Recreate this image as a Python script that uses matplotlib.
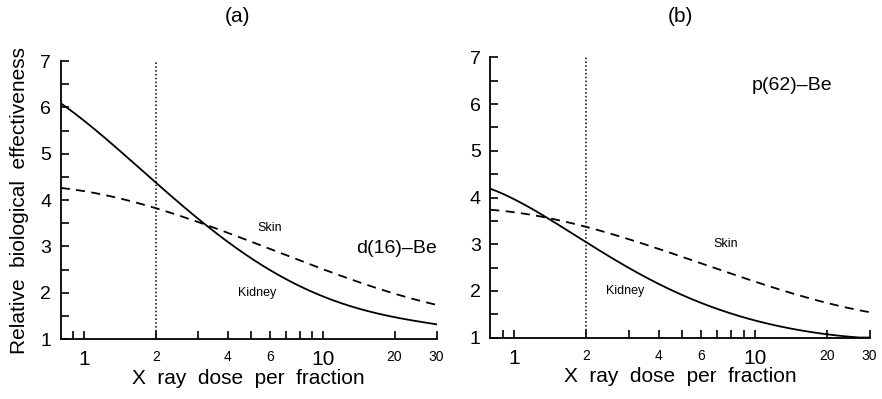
import numpy as np
import matplotlib
matplotlib.use("Agg")
import matplotlib.pyplot as plt
import matplotlib.ticker as mticker

plt.rcParams['font.family'] = ['Liberation Sans', 'DejaVu Sans']

# panel (a) d(16)-Be
dose_a = [0.8, 1, 1.5, 2, 3, 4, 5, 6, 8, 10, 14, 20, 30]
kidney_a = [6.10, 5.70, 4.92, 4.40, 3.64, 3.10, 2.72, 2.46, 2.15, 1.96, 1.66, 1.47, 1.32]
skin_dose_a = [0.8, 1, 1.5, 2, 3.32, 4.5, 8, 10, 14, 20, 30]
skin_a = [4.26, 4.18, 4.02, 3.85, 3.44, 3.16, 2.70, 2.52, 2.25, 1.99, 1.73]

# panel (b) p(62)-Be
dose_b = [0.8, 1.37, 2, 2.72, 3.71, 5.07, 6.92, 8.8, 12, 18.8, 22.3, 26, 30]
kidney_b = [4.19, 3.56, 3.04, 2.64, 2.24, 1.88, 1.60, 1.45, 1.30, 1.09, 1.02, 1.0, 1.0]
skin_dose_b = [0.8, 1.37, 2, 2.72, 5, 8.8, 10, 16.3, 20, 30]
skin_b = [3.74, 3.56, 3.36, 3.20, 2.73, 2.28, 2.19, 1.86, 1.77, 1.53]

tick_pos = [0.9, 1, 2, 3, 4, 5, 6, 7, 8, 9, 10, 20, 30]
big_labels = {1: "1", 10: "10"}
small_labels = {2: "2", 4: "4", 6: "6", 20: "20", 30: "30"}


def smooth(x, y, deg=4):
  # least squares curve through the read points, in log dose
  lx = np.log10(np.array(x, float))
  coef = np.polyfit(lx, np.array(y, float), deg)
  xs = np.linspace(lx[0], lx[-1], 300)
  return 10 ** xs, np.polyval(coef, xs)


def draw_panel(ax, dk, kid, ds, skin, tag, tag_xy, skin_xy, kid_xy, kdeg=4):
  x, y = smooth(dk, kid, kdeg)
  ax.plot(x, np.maximum(y, 1.0), color="black", lw=1.3)
  x, y = smooth(ds, skin, 3)
  ax.plot(x, y, color="black", lw=1.3, ls=(0, (5, 3.5)))
  ax.plot([2, 2], [1, 7], color="black", lw=1.1, ls=(0, (1, 1.5)))

  ax.set_xscale("log")
  ax.set_xlim(0.8, 30)
  ax.set_ylim(1, 7)
  for s in ["top", "right"]:
    ax.spines[s].set_visible(False)
  ax.spines["left"].set_linewidth(1.3)
  ax.spines["bottom"].set_linewidth(1.3)

  ax.xaxis.set_major_locator(mticker.FixedLocator(tick_pos))
  ax.xaxis.set_minor_locator(mticker.NullLocator())
  ax.set_xticklabels([""] * len(tick_pos))
  ax.tick_params(axis="x", direction="in", length=6, width=1.2)
  trans = ax.get_xaxis_transform()
  for v, s in big_labels.items():
    ax.text(v, -0.04, s, transform=trans, ha="center", va="top", fontsize=15)
  for v, s in small_labels.items():
    ax.text(v, -0.04, s, transform=trans, ha="center", va="top", fontsize=10)

  ax.yaxis.set_major_locator(mticker.MultipleLocator(1))
  ax.yaxis.set_minor_locator(mticker.MultipleLocator(0.5))
  ax.tick_params(axis="y", which="both", direction="in", length=6, width=1.2, labelsize=14, pad=7)

  ax.set_xlabel("X  ray  dose  per  fraction", fontsize=15, labelpad=18)
  ax.text(tag_xy[0], tag_xy[1], tag, fontsize=14, ha="right", va="center")
  ax.text(skin_xy[0], skin_xy[1], "Skin", fontsize=9, ha="center", va="center")
  ax.text(kid_xy[0], kid_xy[1], "Kidney", fontsize=9, ha="center", va="center")


fig = plt.figure(figsize=(8.82, 3.99), dpi=100)
ax1 = fig.add_axes([0.069, 0.150, 0.426, 0.697])
ax2 = fig.add_axes([0.556, 0.154, 0.430, 0.702])

draw_panel(ax1, dose_a, kidney_a, skin_dose_a, skin_a, "d(16)\u2013Be",
           (30, 2.95), (6.0, 3.4), (5.3, 2.0))
draw_panel(ax2, dose_b, kidney_b, skin_dose_b, skin_b, "p(62)\u2013Be",
           (21, 6.4), (7.6, 3.0), (2.9, 2.0), kdeg=5)

fig.text(237 / 882, 1 - 16 / 399, "(a)", fontsize=15, ha="center", va="center")
fig.text(680 / 882, 1 - 16 / 399, "(b)", fontsize=15, ha="center", va="center")

ax1.set_ylabel("Relative  biological  effectiveness", fontsize=15, labelpad=8)

fig.savefig("out.png", dpi=100)
